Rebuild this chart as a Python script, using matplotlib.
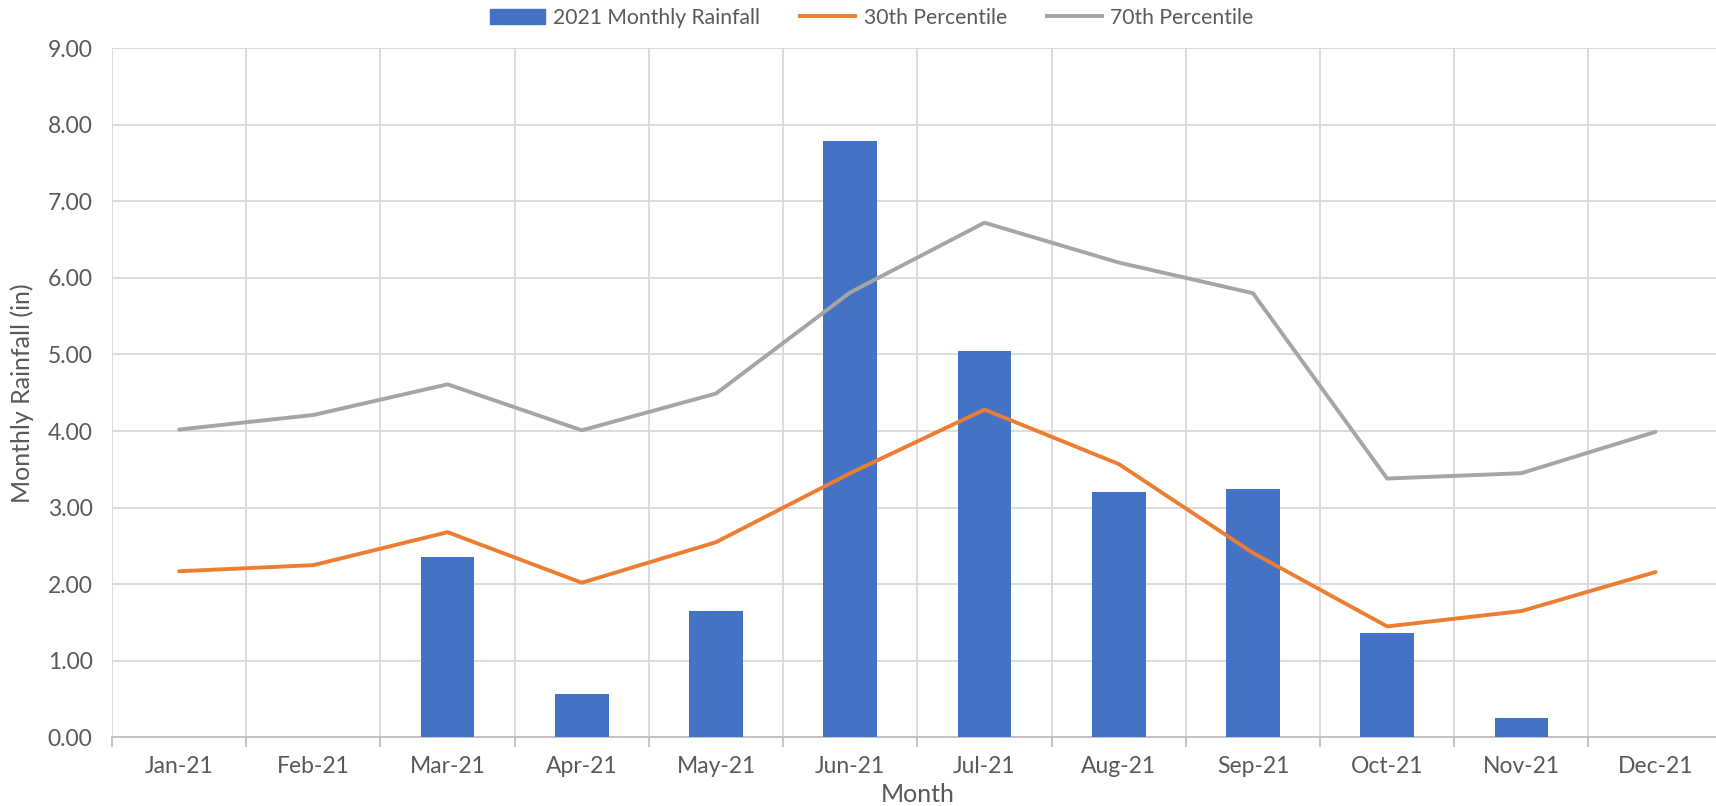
# rainfall.py
# 2021 monthly rainfall against the 30th / 70th percentiles

import numpy as np
import matplotlib.pyplot as plt
from matplotlib.patches import Patch
from matplotlib.lines import Line2D

plt.rcParams['font.family'] = ['Lato', 'DejaVu Sans']

# Values
months = ['Jan-21', 'Feb-21', 'Mar-21', 'Apr-21', 'May-21', 'Jun-21',
          'Jul-21', 'Aug-21', 'Sep-21', 'Oct-21', 'Nov-21', 'Dec-21']
rainfall = [0.00, 0.00, 2.35, 0.57, 1.65, 7.78, 5.05, 3.20, 3.24, 1.37, 0.26, 0.00]
pct30 = [2.17, 2.25, 2.68, 2.02, 2.55, 3.45, 4.28, 3.57, 2.41, 1.45, 1.65, 2.16]
pct70 = [4.02, 4.21, 4.61, 4.01, 4.49, 5.81, 6.72, 6.20, 5.80, 3.38, 3.45, 3.99]
yticks = np.arange(0, 10, 1)

BLUE = '#4472C4'
ORANGE = '#ED7D31'
GREY = '#A5A5A5'
GRID = '#D9D9D9'
TEXT = '#595959'
LW = 2.8

fig = plt.figure(figsize=(17.16, 8.06), dpi=100)
ax = fig.add_axes([0.0653, 0.085, 0.9386, 0.8554])

x = np.arange(len(months))
ax.bar(x, rainfall, width=0.4, color=BLUE, zorder=3)
ax.plot(x, pct30, color=ORANGE, lw=LW, zorder=4, solid_capstyle='round')
ax.plot(x, pct70, color=GREY, lw=LW, zorder=4, solid_capstyle='round')

ax.set_xlim(-0.5, len(months) - 0.5)
ax.set_ylim(0, 9)
ax.set_yticks(yticks)
ax.set_yticklabels(['%.2f' % v for v in yticks])
ax.set_xticks(x)
ax.set_xticklabels(months)
ax.set_xticks(np.arange(-0.5, len(months), 1), minor=True)

# Excel-ish gridlines: horizontal at each value, vertical between categories
ax.grid(axis='y', which='major', color=GRID, lw=1.3, zorder=0)
ax.grid(axis='x', which='minor', color=GRID, lw=1.3, zorder=0)
ax.tick_params(axis='x', which='major', length=0, pad=13, labelsize=16.5, labelcolor=TEXT)
ax.tick_params(axis='x', which='minor', length=7, width=1.3, color='#BFBFBF', direction='out')
ax.tick_params(axis='y', length=0, pad=14, labelsize=16.5, labelcolor=TEXT)

for s in ['top', 'right', 'left']:
    ax.spines[s].set_visible(False)
ax.spines['bottom'].set_color('#BFBFBF')
ax.spines['bottom'].set_linewidth(1.3)

ax.set_xlabel('Month', fontsize=18, color=TEXT, labelpad=5)
ax.set_ylabel('Monthly Rainfall (in)', fontsize=18, color=TEXT, labelpad=10)

handles = [Patch(color=BLUE),
           Line2D([], [], color=ORANGE, lw=LW),
           Line2D([], [], color=GREY, lw=LW)]
labels = ['2021 Monthly Rainfall', '30th Percentile', '70th Percentile']
fig.legend(handles, labels, loc='center', bbox_to_anchor=(0.508, 0.978), ncol=3,
           frameon=False, fontsize=15.2, labelcolor=TEXT, handlelength=2.6,
           columnspacing=1.9, handletextpad=0.4)

fig.savefig('out.png', dpi=100)
